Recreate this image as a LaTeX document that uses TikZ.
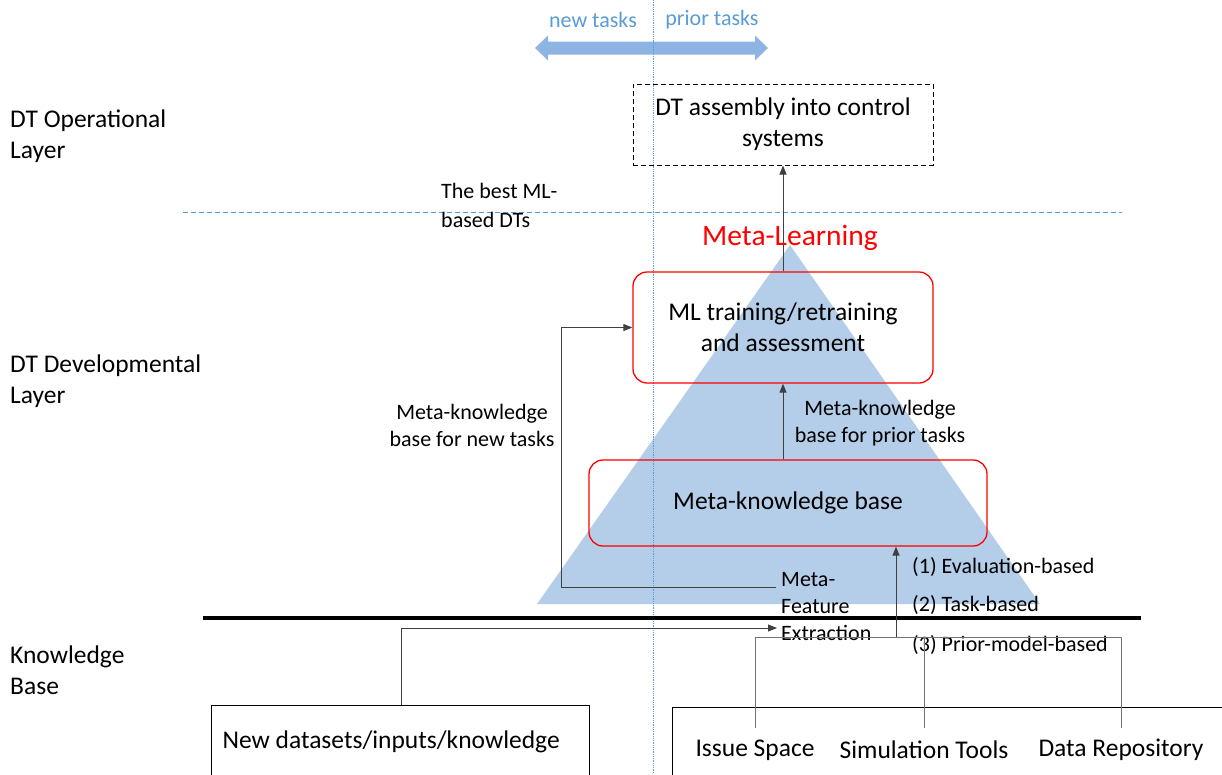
\documentclass[tikz,border=0pt]{standalone}
\usepackage{fontspec}
\setmainfont{Carlito}
\usetikzlibrary{arrows.meta,positioning}
\definecolor{triblue}{RGB}{180,205,232}
\definecolor{arrblue}{RGB}{141,180,226}
\definecolor{lineblue}{RGB}{91,155,213}
\tikzset{
  bigtxt/.style={font=\fontsize{25.5}{31}\selectfont},
  smalltxt/.style={font=\fontsize{22}{27}\selectfont},
  redbox/.style={draw=red, line width=1.3pt, rounded corners=14pt, align=center, bigtxt},
  conn/.style={draw=black!75, line width=1pt, -{Triangle[length=9pt,width=7pt]}},
  src/.style={draw=black!55, line width=0.9pt},
}

\begin{document}
\begin{tikzpicture}[x=1pt,y=-1pt]
  \clip (0,0) rectangle (1222,774);

  %% pyramid
  \fill[triblue] (537,604) -- (790,245) -- (1040,604) -- cycle;

  %% new / prior tasks
  \fill[arrblue] (535,48) -- (548,35.5) -- (548,41.5) -- (755,41.5) -- (755,35.5)
    -- (768,48) -- (755,60.5) -- (755,54.5) -- (548,54.5) -- (548,60.5) -- cycle;
  \node[smalltxt, text=lineblue] (newt) at (593,20) {new tasks};
  \node[smalltxt, text=lineblue] (priort) at (712,20) {prior tasks};

  %% separators
  \draw[lineblue, densely dotted, line width=0.8pt] (653,0) -- (653,774);
  \draw[lineblue, dash pattern=on 5pt off 3pt, line width=0.8pt] (183,212) -- (1122,212);
  \draw[black, line width=4pt] (203,618) -- (1141,618);

  %% layers
  \node[bigtxt, align=left, anchor=west, inner sep=0] (oplayer) at (10,136) {DT Operational\\Layer};
  \node[bigtxt, align=left, anchor=west, inner sep=0] (devlayer) at (10,381) {DT Developmental\\Layer};
  \node[bigtxt, align=left, anchor=west, inner sep=0] (kblayer) at (10,670) {Knowledge\\Base};

  %% boxes
  \node[draw, dash pattern=on 5pt off 3pt, line width=1pt, minimum width=300pt, minimum height=81pt,
    align=center, bigtxt] (dtbox) at (783,124.5) {DT assembly into control\\systems};
  \node[redbox, minimum width=300pt, minimum height=111pt] (ml) at (783,327.5) {ML training/retraining\\and assessment};
  \node[redbox, minimum width=398pt, minimum height=86pt] (mkb) at (788,503) {Meta-knowledge base};
  \node[draw, line width=1.2pt, text width=356pt, inner xsep=11pt, align=flush left, minimum height=72pt,
    anchor=north west, bigtxt] (newdata) at (211,705) {New datasets/inputs/knowledge};
  \node[draw, line width=1pt, minimum width=600pt, minimum height=80pt, anchor=north west] (kb) at (672,707) {};
  \node[bigtxt, minimum height=44pt, inner sep=0] (issue) at (755,750) {Issue Space};
  \node[bigtxt, minimum height=44pt, inner sep=0] (sim) at (924,750) {Simulation Tools};
  \node[bigtxt, minimum height=44pt, inner sep=0] (data) at (1121,750) {Data Repository};

  %% labels
  \node[smalltxt, align=left, anchor=west, inner sep=0] (mfe) at (781,607) {Meta-\\Feature\\Extraction};
  \node[smalltxt, align=center] (priorlbl) at (880,423.5) {Meta-knowledge\\base for prior tasks};
  \node[smalltxt, align=center] (newlbl) at (472,425.5) {Meta-knowledge\\base for new tasks};
  \node[font=\fontsize{22}{29}\selectfont, align=left, anchor=west, inner sep=0] (bestlbl) at (441,205.5) {The best ML-\\based DTs};
  \node[smalltxt, anchor=west, inner sep=0] (eval) at (912,567) {(1) Evaluation-based};
  \node[smalltxt, anchor=west, inner sep=0] (task) at (912,605) {(2) Task-based};
  \node[smalltxt, anchor=west, inner sep=0] (prior) at (912,645) {(3) Prior-model-based};

  %% connectors
  \coordinate (hub) at (896,637);
  \draw[src] (issue.north) |- (hub) -| (data.north);
  \draw[src] (sim.north) -- (sim.north |- hub);
  \draw[conn] (hub) -- (hub |- mkb.south);
  \draw[conn] (ml.south |- mkb.north) -- (ml.south);
  \draw[conn] (ml.north) -- (dtbox.south);
  \draw[conn] ([xshift=-5pt,yshift=20pt]mfe.west) -- ++(-215,0) |- (ml.west);
  \draw[conn] (newdata.north -| 401,0) |- ([xshift=-4pt,yshift=-21pt]mfe.west);

  \node[text=red, font=\fontsize{29.5}{33}\selectfont] (metal) at (790,238) {Meta-Learning};

\end{tikzpicture}
\end{document}
